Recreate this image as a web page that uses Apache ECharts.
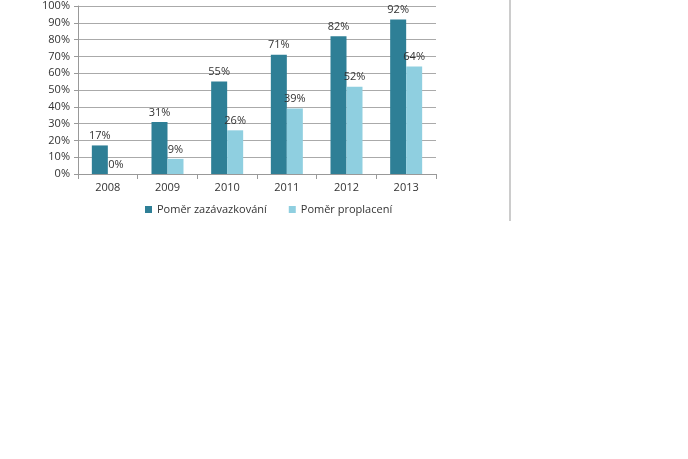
<!DOCTYPE html><html><head><meta charset="utf-8"><script src="https://cdn.jsdelivr.net/npm/echarts@6/dist/echarts.min.js"></script>
<style>html,body{margin:0;background:#fff}#c{width:688px;height:459px}</style></head><body><div id="c"></div><script>
const categories=['2008','2009','2010','2011','2012','2013'];
const zazavazkovani=[17,31,55,71,82,92];
const proplaceni=[0,9,26,39,52,64];
const yTicks=[0,10,20,30,40,50,60,70,80,90,100];
const c=echarts.init(document.getElementById('c'));
const lbl={show:true,position:'top',formatter:'{c}%',color:'#333',fontSize:11,fontFamily:'Open Sans',distance:4};
c.setOption({animation:false,
grid:{left:78,right:252,top:6,bottom:285},
graphic:[{type:'line',shape:{x1:510,y1:0,x2:510,y2:221},style:{stroke:'#999',lineWidth:1}}],
legend:{top:199,left:140,itemWidth:7,itemHeight:7,itemGap:22,icon:'rect',textStyle:{fontSize:11,color:'#333',fontFamily:'Open Sans'}},
xAxis:{type:'category',data:categories,axisLine:{lineStyle:{color:'#999'}},axisTick:{show:true,lineStyle:{color:'#999'}},axisLabel:{color:'#333',fontSize:11,fontFamily:'Open Sans',margin:8}},
yAxis:{type:'value',min:0,max:100,interval:10,axisLabel:{formatter:v=>yTicks.includes(v)?v+'%':'',color:'#333',fontSize:11,fontFamily:'Open Sans'},axisLine:{show:true,lineStyle:{color:'#999'}},axisTick:{show:true,length:4,lineStyle:{color:'#999'}},splitLine:{lineStyle:{color:'#aaa'}}},
series:[{name:'Poměr zazávazkování',type:'bar',data:zazavazkovani,barWidth:16,barGap:'0%',itemStyle:{color:'#2e7f96'},label:lbl},
{name:'Poměr proplacení',type:'bar',data:proplaceni,barWidth:16,itemStyle:{color:'#8fcfe0'},label:lbl}]});
</script></body></html>
